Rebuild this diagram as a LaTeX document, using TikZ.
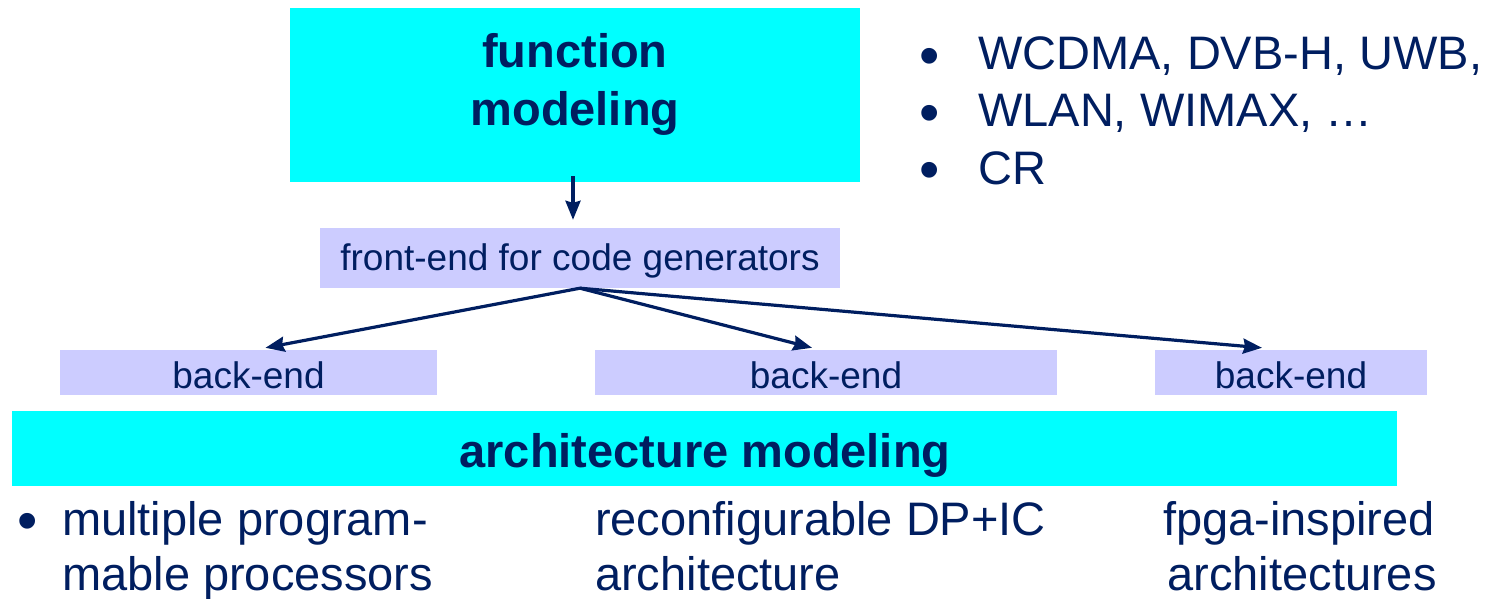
\documentclass[tikz,border=0pt]{standalone}
\usepackage{fontspec}
\setmainfont{Liberation Sans}
\usetikzlibrary{arrows.meta}
\definecolor{navy}{RGB}{0,30,96}
\definecolor{aqua}{RGB}{0,255,255}
\definecolor{lavender}{RGB}{204,204,255}
\tikzset{
  bigbox/.style={fill=aqua, draw=none, inner sep=0pt},
  smallbox/.style={fill=lavender, draw=none, inner sep=0pt},
  smalltext/.style={text=navy, inner sep=0pt, font=\fontsize{37}{44}\selectfont},
  bigtext/.style={text=navy, inner sep=0pt, font=\fontsize{47}{56}\selectfont},
  bullet/.style={text=navy, inner sep=0pt, font=\fontsize{58}{58}\selectfont},
  headtext/.style={text=navy, inner sep=0pt, align=center,
    font=\fontsize{47}{58}\selectfont\bfseries},
  arr/.style={draw=navy, line width=3.2pt,
    -{Stealth[length=19pt,width=15pt,inset=2pt]}},
}
\begin{document}
\begin{tikzpicture}[x=1pt, y=-1pt]
\useasboundingbox (0,0) rectangle (1509,599);

% function modeling block
\node[bigbox, minimum width=570pt, minimum height=174pt] (fm) at (575,95) {};
\node[headtext] (fmt) at (575,84) {function\\modeling};

% standards list
\foreach \t/\yy [count=\i] in {{WCDMA, DVB-H, UWB,}/70, {WLAN, WIMAX, \dots}/127, {CR}/184}{
  \node[bullet] (bul\i) at (930,\yy-8) {•};
  \node[bigtext, anchor=base west] (std\i) at (978,\yy) {\t};
}

% front-end
\node[smallbox, minimum width=520pt, minimum height=60pt] (fe) at (580,258) {};
\node[smalltext] (fet) at (580,261) {front-end for code generators};

% back-ends
\node[smallbox, minimum width=377pt, minimum height=45pt] (be1) at (248.5,372.5) {};
\node[smallbox, minimum width=462pt, minimum height=45pt] (be2) at (826,372.5) {};
\node[smallbox, minimum width=272pt, minimum height=45pt] (be3) at (1291,372.5) {};
\node[smalltext] (be1t) at (248.5,375) {back-end};
\node[smalltext] (be2t) at (826,375) {back-end};
\node[smalltext] (be3t) at (1291,375) {back-end};

% architecture modeling block
\node[bigbox, minimum width=1385pt, minimum height=75pt] (am) at (704.5,448.5) {};
\node[headtext] (amt) at (705,455) {architecture modeling};

% architecture families
\node[bullet] (bulA) at (28,527) {•};
\node[bigtext, anchor=base west] (a1) at (62,535) {multiple program-};
\node[bigtext, anchor=base west] (a2) at (62,590) {mable processors};
\node[bigtext, anchor=base west] (b1) at (595,535) {reconfigurable DP+IC};
\node[bigtext, anchor=base west] (b2) at (595,590) {architecture};
\node[bigtext, anchor=base] (c1) at (1299,535) {fpga-inspired};
\node[bigtext, anchor=base] (c2) at (1302,590) {architectures};

% connectors
\draw[arr] ([yshift=6pt]fm.south -| 573,0) -- ([yshift=8pt]fe.north -| 573,0);
\draw[arr] (fe.south) -- ([xshift=17pt,yshift=2pt]be1.north);
\draw[arr] (fe.south) -- ([xshift=-14pt,yshift=2pt]be2.north);
\draw[arr] (fe.south) -- ([xshift=-29pt,yshift=2pt]be3.north);
\end{tikzpicture}
\end{document}
